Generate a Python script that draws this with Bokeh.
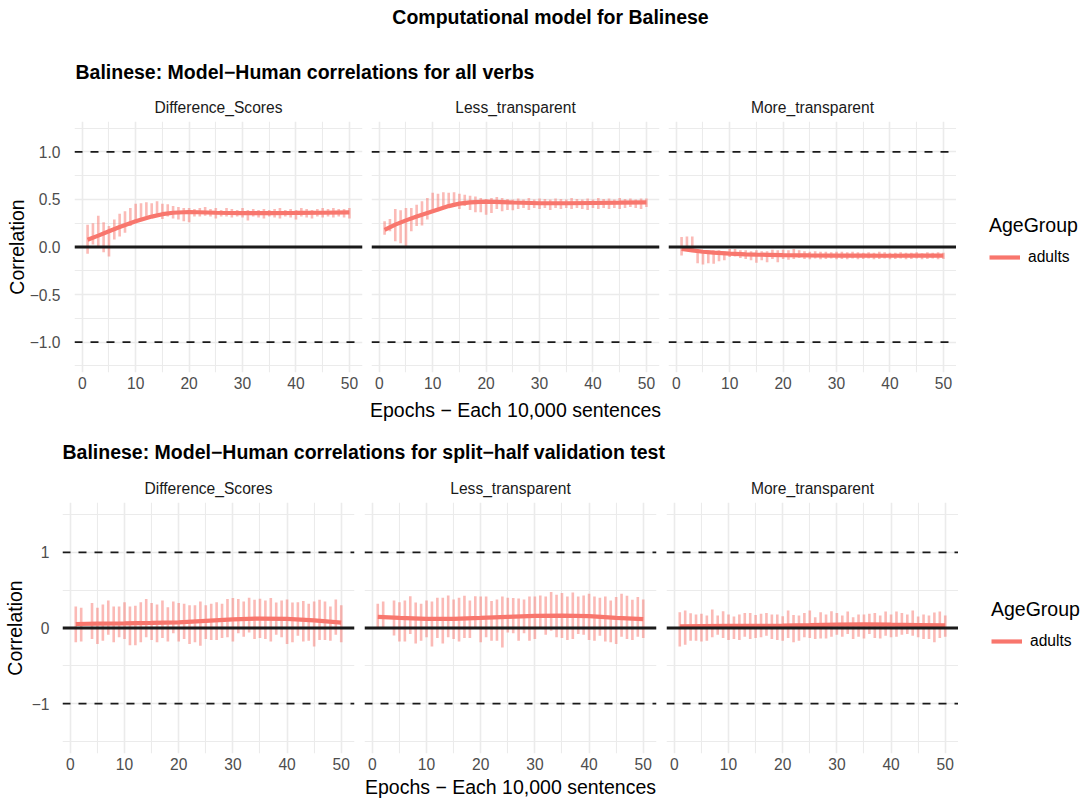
from bokeh.plotting import figure
from bokeh.layouts import column, row
from bokeh.models import ColumnDataSource, FixedTicker, Span, Legend, LegendItem, Label, Range1d
from bokeh.embed import file_html
from bokeh.resources import INLINE

NaN = float("nan")
FONT = "Liberation Sans"
RED = "#F8766D"
GRID = "#EBEBEB"

# ---------------- texts ----------------
main_title = "Computational model for Balinese"
row_titles = ["Balinese: Model\u2212Human correlations for all verbs",
              "Balinese: Model\u2212Human correlations for split\u2212half validation test"]
facets = ["Difference_Scores", "Less_transparent", "More_transparent"]
x_title = "Epochs \u2212 Each 10,000 sentences"
y_title = "Correlation"
legend_title = "AgeGroup"
group_name = "adults"

# ---------------- ticks ----------------
x_ticks = [0, 10, 20, 30, 40, 50]
x_minor = [5, 15, 25, 35, 45]
y_ticks_all = [-1.0, -0.5, 0.0, 0.5, 1.0]
y_labels_all = ["\u22121.0", "\u22120.5", "0.0", "0.5", "1.0"]
y_minor_all = [-1.25, -0.75, -0.25, 0.25, 0.75, 1.25]
y_ticks_split = [-1, 0, 1]
y_labels_split = ["\u22121", "0", "1"]
y_minor_split = [-1.5, -0.5, 0.5, 1.5]
ref_lines = [-1, 0, 1]

# ---------------- data ----------------
epochs = list(range(1, 51))

# Row 1: all verbs
all_diff_upper = [0.235, 0.25, 0.33, 0.26, 0.22, 0.29, 0.35, 0.375, 0.41, 0.456,
                  0.46, 0.47, 0.46, 0.48, 0.456, 0.45, 0.43, 0.42, 0.41, 0.41,
                  0.40, 0.41, 0.42, 0.40, 0.41, 0.39, 0.41, 0.40, 0.39, 0.41,
                  0.39, 0.40, 0.39, 0.40, 0.39, 0.40, 0.41, 0.39, 0.40, 0.39,
                  0.41, 0.40, 0.39, 0.40, 0.41, 0.40, 0.41, 0.40, 0.40, 0.41]
all_diff_lower = [-0.07, 0.025, 0.0, -0.056, -0.10, 0.08, 0.11, 0.15, 0.22, 0.25,
                  0.30, 0.32, 0.34, 0.33, 0.295, 0.32, 0.30, 0.29, 0.27, 0.26,
                  0.32, 0.32, 0.33, 0.32, 0.30, 0.32, 0.32, 0.31, 0.32, 0.31,
                  0.28, 0.32, 0.31, 0.30, 0.32, 0.31, 0.30, 0.32, 0.31, 0.29,
                  0.32, 0.31, 0.30, 0.32, 0.31, 0.32, 0.31, 0.32, 0.31, 0.30]
all_less_upper = [0.27, 0.295, 0.40, 0.386, 0.41, 0.41, 0.445, 0.48, 0.516, 0.57,
                  0.56, 0.575, 0.57, 0.575, 0.56, 0.55, 0.54, 0.53, 0.516, 0.505,
                  0.516, 0.526, 0.516, 0.505, 0.50, 0.51, 0.50, 0.515, 0.50, 0.51,
                  0.505, 0.50, 0.51, 0.505, 0.50, 0.515, 0.505, 0.50, 0.51, 0.50,
                  0.515, 0.505, 0.51, 0.50, 0.515, 0.505, 0.51, 0.50, 0.51, 0.51]
all_less_lower = [0.13, 0.165, 0.06, 0.04, 0.01, 0.165, 0.22, 0.225, 0.29, 0.36,
                  0.375, 0.43, 0.41, 0.445, 0.40, 0.43, 0.39, 0.365, 0.365, 0.34,
                  0.358, 0.40, 0.375, 0.39, 0.386, 0.40, 0.41, 0.39, 0.41, 0.40,
                  0.41, 0.39, 0.41, 0.40, 0.41, 0.40, 0.41, 0.40, 0.39, 0.41,
                  0.40, 0.41, 0.40, 0.41, 0.40, 0.41, 0.42, 0.41, 0.40, 0.42]
all_more_upper = [0.105, 0.11, 0.11, -0.03, -0.045, -0.035, -0.035, -0.035, -0.045, -0.02,
                  -0.02, -0.035, -0.035, -0.045, -0.035, -0.045, -0.045, -0.03, -0.035, -0.03,
                  -0.035, -0.02, -0.035, -0.045, -0.05, -0.045, -0.05, -0.05, -0.055, -0.05,
                  -0.05, -0.055, -0.05, -0.055, -0.06, -0.055, -0.06, -0.05, -0.055, -0.06,
                  -0.06, -0.055, -0.06, -0.06, -0.055, -0.065, -0.055, -0.06, -0.055, -0.06]
all_more_lower = [-0.09, -0.035, -0.03, -0.17, -0.185, -0.17, -0.175, -0.15, -0.14, -0.105,
                  -0.10, -0.116, -0.126, -0.14, -0.165, -0.14, -0.16, -0.126, -0.16, -0.126,
                  -0.133, -0.126, -0.116, -0.126, -0.13, -0.12, -0.13, -0.126, -0.12, -0.13,
                  -0.126, -0.13, -0.12, -0.13, -0.126, -0.12, -0.13, -0.126, -0.12, -0.13,
                  -0.126, -0.12, -0.13, -0.126, -0.12, -0.13, -0.126, -0.12, -0.13, -0.126]

smooth_epochs_all = [1, 3, 5, 7, 10, 13, 15, 17, 20, 25, 30, 35, 40, 45, 50]
all_diff_smooth = [0.077, 0.12, 0.165, 0.21, 0.27, 0.32, 0.345, 0.36, 0.368, 0.36, 0.357, 0.357, 0.358, 0.36, 0.365]
all_less_smooth = [0.18, 0.235, 0.28, 0.32, 0.375, 0.43, 0.456, 0.47, 0.478, 0.468, 0.46, 0.46, 0.463, 0.466, 0.47]
all_more_smooth = [-0.02, -0.035, -0.05, -0.06, -0.07, -0.077, -0.08, -0.082, -0.085, -0.088, -0.09, -0.091, -0.092, -0.091, -0.09]

# Row 2: split-half validation
split_diff_upper = [0.284, 0.267, NaN, 0.33, 0.267, 0.31, 0.364, 0.284, 0.284, 0.342,
                    0.284, 0.293, 0.342, 0.382, 0.33, 0.31, 0.364, 0.276, 0.35, 0.33,
                    0.32, 0.3, 0.3, 0.35, 0.3, 0.32, 0.342, 0.32, 0.382, 0.396,
                    0.382, 0.35, 0.4, 0.373, 0.387, 0.364, 0.396, 0.338, 0.364, 0.378,
                    0.338, 0.342, 0.356, 0.32, 0.35, 0.373, 0.35, 0.284, 0.378, 0.3]
split_diff_lower = [-0.19, -0.178, NaN, -0.147, -0.213, -0.17, -0.09, -0.19, -0.124, -0.147,
                    -0.227, -0.227, -0.19, -0.124, -0.16, -0.19, -0.133, -0.178, -0.071, -0.178,
                    -0.147, -0.213, -0.19, -0.236, -0.147, -0.16, -0.16, -0.133, -0.124, -0.178,
                    -0.071, -0.115, -0.058, -0.147, -0.133, -0.147, -0.178, -0.089, -0.124, -0.213,
                    -0.19, -0.102, -0.178, -0.169, -0.244, -0.16, -0.16, -0.169, -0.089, -0.19]
split_less_upper = [0.32, 0.35, NaN, 0.364, 0.342, 0.364, 0.42, 0.338, 0.32, 0.364,
                    0.35, 0.4, 0.4, 0.431, 0.378, 0.4, 0.427, 0.364, 0.42, 0.418,
                    0.418, 0.356, 0.378, 0.418, 0.4, 0.396, 0.391, 0.378, 0.418, 0.418,
                    0.431, 0.418, 0.476, 0.44, 0.462, 0.418, 0.471, 0.418, 0.431, 0.453,
                    0.418, 0.4, 0.418, 0.364, 0.409, 0.453, 0.427, 0.373, 0.409, 0.378]
split_less_lower = [0.01, 0.0, NaN, -0.1, -0.178, -0.178, -0.08, -0.204, -0.169, -0.124,
                    -0.244, -0.133, -0.204, -0.124, -0.147, -0.178, -0.133, -0.133, -0.013, -0.19,
                    -0.124, -0.169, -0.169, -0.258, -0.058, -0.071, -0.169, -0.071, -0.169, -0.147,
                    0.0, -0.089, -0.036, -0.124, -0.133, -0.16, -0.147, -0.08, -0.089, -0.16,
                    -0.169, -0.102, -0.178, -0.19, -0.213, -0.115, -0.147, -0.16, -0.115, -0.133]
split_more_upper = [0.209, 0.231, 0.196, 0.178, 0.187, 0.164, 0.244, 0.164, 0.222, 0.178,
                    0.151, 0.178, 0.2, 0.2, 0.173, 0.187, 0.2, 0.178, 0.178, 0.156,
                    0.231, 0.173, 0.164, 0.2, 0.231, 0.142, 0.209, 0.178, 0.222, 0.2,
                    0.164, 0.218, 0.142, 0.178, 0.178, 0.187, 0.2, 0.164, 0.218, 0.178,
                    0.218, 0.2, 0.178, 0.231, 0.151, 0.178, 0.164, 0.204, 0.218, 0.164]
split_more_lower = [-0.244, -0.222, -0.169, -0.169, -0.178, -0.169, -0.124, -0.089, -0.133, -0.16,
                    -0.147, -0.16, -0.115, -0.147, -0.133, -0.124, -0.102, -0.147, -0.16, -0.169,
                    -0.133, -0.19, -0.169, -0.124, -0.133, -0.147, -0.138, -0.138, -0.115, -0.089,
                    -0.115, -0.08, -0.147, -0.115, -0.138, -0.08, -0.133, -0.138, -0.102, -0.124,
                    -0.115, -0.089, -0.08, -0.102, -0.124, -0.147, -0.147, -0.19, -0.133, -0.115]

smooth_epochs_split = [1, 5, 10, 15, 20, 25, 30, 35, 40, 45, 50]
split_diff_smooth = [0.053, 0.058, 0.062, 0.068, 0.075, 0.095, 0.115, 0.125, 0.12, 0.1, 0.072]
split_less_smooth = [0.147, 0.133, 0.12, 0.12, 0.133, 0.147, 0.16, 0.164, 0.156, 0.133, 0.118]
split_more_smooth = [0.022, 0.025, 0.027, 0.029, 0.031, 0.037, 0.044, 0.049, 0.044, 0.04, 0.036]


def blank(width, height):
    h = figure(width=width, height=height, x_range=Range1d(0, 1), y_range=Range1d(0, 1),
               toolbar_location=None, output_backend="svg", x_axis_location=None,
               y_axis_location=None, min_border=0, outline_line_color=None)
    h.grid.visible = False
    return h


def header(width, height, labels):
    h = blank(width, height)
    for txt, x, y, align in labels:
        h.add_layout(Label(x=x, y=y, x_units="screen", y_units="screen", text=txt,
                           text_align=align, text_baseline="middle", text_font=FONT,
                           text_font_size="19.5px", text_font_style="bold", text_color="black"))
    return h


def legend_fig(height, leg_y):
    lf = blank(125, height)
    # legend key only: a line renderer with no visible points
    key = lf.line(x=[NaN], y=[NaN], line_color=RED, line_width=4.2)
    leg = Legend(items=[LegendItem(label=group_name, renderers=[key])], title=legend_title,
                 location=(33, leg_y), padding=0, margin=0, spacing=0,
                 border_line_color=None, background_fill_alpha=0,
                 glyph_width=31, glyph_height=20, label_standoff=8,
                 title_standoff=10,
                 title_text_font=FONT, title_text_font_size="19.5px",
                 title_text_font_style="normal", title_text_color="black",
                 label_text_font=FONT, label_text_font_size="15.6px",
                 label_text_color="black")
    lf.add_layout(leg, "center")
    return lf


def panel(name, lower, upper, sm_x, sm_y, yrange, yt, yl, ym, fw, fh,
          b_left, b_right, b_bottom, first, middle, tick_std, ylab_std, xl_std, xlab_std):
    p = figure(frame_width=fw, frame_height=fh, x_range=Range1d(-1.45, 52.45),
               y_range=Range1d(*yrange), toolbar_location=None, output_backend="svg",
               y_axis_location="left" if first else None,
               min_border_left=b_left, min_border_right=b_right, min_border_top=34,
               min_border_bottom=b_bottom, outline_line_color=None, title=name)
    p.title.align = "center"
    p.title.text_font = FONT
    p.title.text_font_size = "15.6px"
    p.title.text_font_style = "normal"
    p.title.text_color = "#1A1A1A"
    p.title.standoff = 11

    xt = FixedTicker(ticks=x_ticks, minor_ticks=x_minor)
    ytk = FixedTicker(ticks=yt, minor_ticks=ym)
    p.xgrid.ticker = xt
    p.ygrid.ticker = ytk
    for g in (p.xgrid, p.ygrid):
        g.grid_line_color = GRID
        g.grid_line_width = 1.6
        g.minor_grid_line_color = GRID
        g.minor_grid_line_width = 1.1

    axes = [p.xaxis] + ([p.yaxis] if first else [])
    for ax in axes:
        ax.axis_line_color = None
        ax.major_tick_line_color = None
        ax.minor_tick_line_color = None
        ax.major_tick_out = 0
        ax.major_tick_in = 0
        ax.minor_tick_out = 0
        ax.major_label_text_font = FONT
        ax.major_label_text_font_size = "15.6px"
        ax.major_label_text_color = "#4D4D4D"
        ax.axis_label_text_font = FONT
        ax.axis_label_text_font_size = "19.5px"
        ax.axis_label_text_font_style = "normal"
        ax.axis_label_text_color = "black"
    p.xaxis.ticker = xt
    p.xaxis.major_label_standoff = xl_std
    if middle:
        p.xaxis.axis_label = x_title
        p.xaxis.axis_label_standoff = xlab_std
    if first:
        p.yaxis.ticker = ytk
        p.yaxis.major_label_overrides = dict(zip(yt, yl))
        p.yaxis.major_label_standoff = tick_std
        p.yaxis.axis_label = y_title
        p.yaxis.axis_label_standoff = ylab_std

    src = ColumnDataSource(dict(epoch=epochs, lower=lower, upper=upper))
    p.segment(x0="epoch", y0="lower", x1="epoch", y1="upper", source=src,
              line_color=RED, line_alpha=0.5, line_width=2.6)
    p.line(sm_x, sm_y, line_color=RED, line_width=4.2)

    for v in ref_lines:
        p.add_layout(Span(location=v, dimension="width", line_color="#1A1A1A",
                          line_width=2.8 if v == 0 else 1.7,
                          line_dash="solid" if v == 0 else "8 8"))
    return p


row1_data = [(all_diff_lower, all_diff_upper, all_diff_smooth),
             (all_less_lower, all_less_upper, all_less_smooth),
             (all_more_lower, all_more_upper, all_more_smooth)]
row2_data = [(split_diff_lower, split_diff_upper, split_diff_smooth),
             (split_less_lower, split_less_upper, split_less_smooth),
             (split_more_lower, split_more_upper, split_more_smooth)]

r1 = []
lefts1 = [74, 0, 0]
rights1 = [9, 9, 0]
for i, (lo, up, sm) in enumerate(row1_data):
    r1.append(panel(facets[i], lo, up, smooth_epochs_all, sm, (-1.32, 1.32),
                    y_ticks_all, y_labels_all, y_minor_all, 288, 251,
                    lefts1[i], rights1[i], 48, i == 0, i == 1, 14, -1, 4, 7))
r1.append(legend_fig(285, 54))

r2 = []
lefts2 = [60, 0, 0]
rights2 = [10, 10, 0]
for i, (lo, up, sm) in enumerate(row2_data):
    r2.append(panel(facets[i], lo, up, smooth_epochs_split, sm, (-1.66, 1.66),
                    y_ticks_split, y_labels_split, y_minor_split, 292, 251,
                    lefts2[i], rights2[i], 44, i == 0, i == 1, 13, 3, 4, 3))
r2.append(legend_fig(285, 55))

h1 = header(1081, 87, [(main_title, 550, 71, "center"), (row_titles[0], 75, 16, "left")])
h2 = header(1081, 45, [(row_titles[1], 62, 17, "left")])

layout = column(h1, row(*r1, spacing=0), h2, row(*r2, spacing=0), spacing=0)

open("out.html", "w").write(file_html(layout, INLINE))
